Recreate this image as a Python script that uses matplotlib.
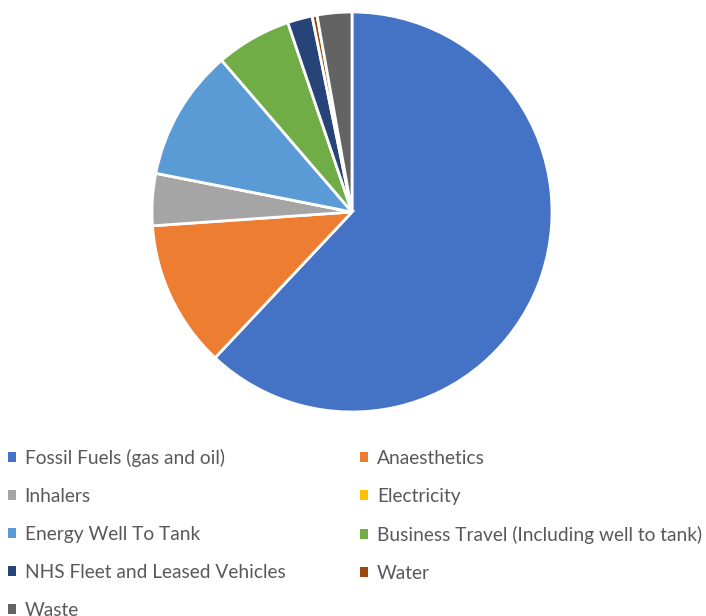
import matplotlib.pyplot as plt
from matplotlib.patches import Patch

# emission sources, % of total footprint
sources = ["Fossil Fuels (gas and oil)", "Anaesthetics", "Inhalers", "Electricity",
           "Energy Well To Tank", "Business Travel (Including well to tank)",
           "NHS Fleet and Leased Vehicles", "Water", "Waste"]
shares = [62.0, 11.9, 4.2, 0.0, 10.6, 6.1, 2.0, 0.4, 2.8]
colours = ["#4472C4", "#ED7D31", "#A5A5A5", "#FFC000", "#5B9BD5",
           "#70AD47", "#264478", "#9E480E", "#636363"]

plt.rcParams['font.family'] = ['Lato', 'DejaVu Sans']

W, H = 706, 616
fig = plt.figure(figsize=(W / 100, H / 100), dpi=100)

# pie centred at (352, 212) px, radius 200 px
cx, cy, r = 352, 212, 200
ax = fig.add_axes([(cx - r) / W, (H - cy - r) / H, 2 * r / W, 2 * r / H])
ax.pie(shares, colors=colours, startangle=90, counterclock=False, radius=1,
       wedgeprops=dict(edgecolor="white", linewidth=2))
ax.set_xlim(-1.0, 1.0)
ax.set_ylim(-1.0, 1.0)
ax.set_aspect("equal")
ax.axis("off")

# legend laid out row by row in two columns
handles = [Patch(facecolor=c, edgecolor="none") for c in colours]
order = [0, 2, 4, 6, 8, 1, 3, 5, 7]
leg = fig.legend([handles[i] for i in order], [sources[i] for i in order],
                 ncol=2, loc="upper left", bbox_to_anchor=(8 / W, (H - 449) / H),
                 frameon=False, fontsize=13.8, handlelength=0.42, handleheight=0.42,
                 handletextpad=0.45, labelspacing=1.09, columnspacing=3.9,
                 borderaxespad=0, borderpad=0, labelcolor="#595959")

fig.savefig("out.png", dpi=100)
